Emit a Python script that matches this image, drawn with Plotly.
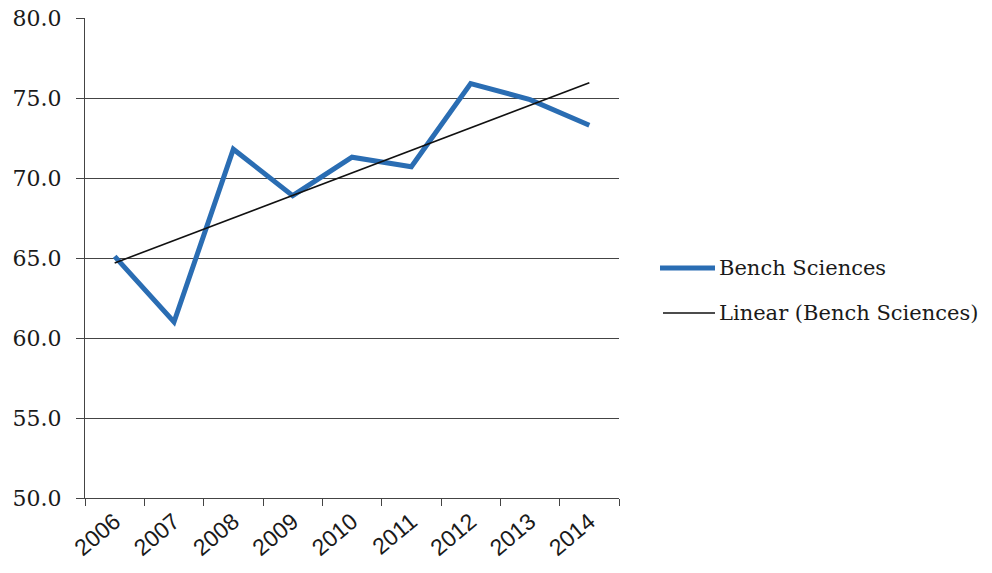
import numpy as np
import plotly.graph_objects as go

years = ["2006", "2007", "2008", "2009", "2010", "2011", "2012", "2013", "2014"]
bench_sciences = [65.1, 61.0, 71.8, 68.9, 71.3, 70.7, 75.9, 74.9, 73.3]
y_ticks = [50, 55, 60, 65, 70, 75, 80]
legend_names = ["Bench Sciences", "Linear (Bench Sciences)"]

BLUE = "#2a6db3"
DARK = "#111111"

idx = np.arange(len(years))
slope, intercept = np.polyfit(idx, bench_sciences, 1)
trend = [slope * i + intercept for i in idx]

fig = go.Figure()
fig.add_trace(go.Scatter(
    x=years, y=bench_sciences, mode="lines", name=legend_names[0],
    line=dict(color=BLUE, width=5),
))
fig.add_trace(go.Scatter(
    x=years, y=trend, mode="lines", name=legend_names[1],
    line=dict(color=DARK, width=1.6),
))

# manual legend (long line samples as in the reference)
L, R, T, B = 85, 619, 18, 498
def px(x):
    return (x - L) / (R - L)
def py(y):
    return (B - y) / (B - T)

leg_items = [(legend_names[0], BLUE, 5, 268, 660), (legend_names[1], DARK, 1.6, 313, 663)]
for name, col, w, yy, x0 in leg_items:
    fig.add_shape(type="line", xref="paper", yref="paper",
                  x0=px(x0), x1=px(715), y0=py(yy), y1=py(yy),
                  line=dict(color=col, width=w))
    fig.add_annotation(xref="paper", yref="paper", x=px(717), y=py(yy),
                       text=name, showarrow=False, xanchor="left", yanchor="middle",
                       font=dict(family="DejaVu Serif", size=21, color="#1a1a1a"))

fig.update_layout(
    width=992, height=573,
    margin=dict(l=L, r=992 - R, t=T, b=573 - B),
    paper_bgcolor="white", plot_bgcolor="white",
    font=dict(family="DejaVu Serif", color="#1a1a1a"),
    showlegend=False,
    xaxis=dict(
        type="category", tickson="boundaries", automargin=False,
        ticks="outside", ticklen=7, tickcolor="#444", tickwidth=1.2,
        showline=True, linecolor="#444", linewidth=1.2,
        showgrid=False, tickangle=-40,
        tickfont=dict(family="Liberation Sans", size=23, color="#1a1a1a"),
        range=[-0.5, 8.5],
    ),
    yaxis=dict(
        range=[50, 80], tickvals=y_ticks, tickformat=".1f", automargin=False,
        ticks="outside", ticklen=8, tickcolor="#444", tickwidth=1.2,
        showline=True, linecolor="#444", linewidth=1.2,
        showgrid=True, gridcolor="#444", gridwidth=1.2,
        zeroline=False, ticklabelstandoff=10,
        tickfont=dict(family="DejaVu Serif", size=22, color="#1a1a1a"),
    ),
)

fig.write_html("out.html")
